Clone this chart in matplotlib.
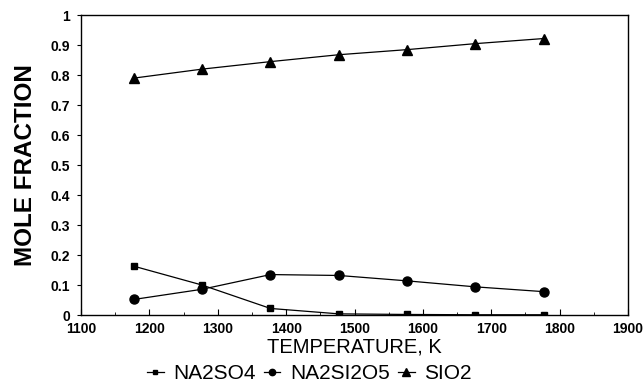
import matplotlib.pyplot as plt
from matplotlib.ticker import MultipleLocator

temps = [1177, 1277, 1377, 1477, 1577, 1677, 1777]
na2so4 = [0.163, 0.100, 0.022, 0.004, 0.002, 0.001, 0.001]
na2si2o5 = [0.052, 0.086, 0.135, 0.132, 0.114, 0.094, 0.078]
sio2 = [0.790, 0.820, 0.845, 0.868, 0.885, 0.905, 0.922]

plt.rcParams["font.family"] = ["Liberation Sans", "DejaVu Sans"]

fig = plt.figure(figsize=(6.44, 3.88), dpi=100)
ax = fig.add_axes([0.126, 0.188, 0.849, 0.773])

ax.plot(temps, na2so4, color="black", lw=0.9, marker="s", ms=5, label="NA2SO4")
ax.plot(temps, na2si2o5, color="black", lw=0.9, marker="o", ms=6.5, label="NA2SI2O5")
ax.plot(temps, sio2, color="black", lw=0.9, marker="^", ms=7.5, label="SIO2")

ax.set_xlim(1100, 1900)
ax.set_ylim(0, 1)
ax.xaxis.set_major_locator(MultipleLocator(100))
ax.xaxis.set_minor_locator(MultipleLocator(50))
ax.set_yticks([0, 0.1, 0.2, 0.3, 0.4, 0.5, 0.6, 0.7, 0.8, 0.9, 1.0])
ax.set_yticklabels(["0", "0.1", "0.2", "0.3", "0.4", "0.5", "0.6", "0.7", "0.8", "0.9", "1"])
ax.tick_params(axis="x", direction="in", length=4, labelsize=10, pad=5)
ax.tick_params(axis="x", which="minor", direction="in", length=2)
ax.tick_params(axis="y", direction="out", length=3, labelsize=10, pad=5)
for lab in ax.get_xticklabels() + ax.get_yticklabels():
    lab.set_fontweight("bold")
for s in ax.spines.values():
    s.set_linewidth(1.0)

ax.set_xlabel("TEMPERATURE, K", fontsize=14.5, labelpad=1)
ax.set_ylabel("MOLE FRACTION", fontsize=17.5, fontweight="bold", labelpad=10)

fig.legend(loc="lower center", bbox_to_anchor=(0.48, -0.035), ncol=3, frameon=False,
           fontsize=15, handlelength=0.8, handletextpad=0.45, columnspacing=0.4,
           markerscale=0.7)

fig.savefig("out.png", dpi=100)
